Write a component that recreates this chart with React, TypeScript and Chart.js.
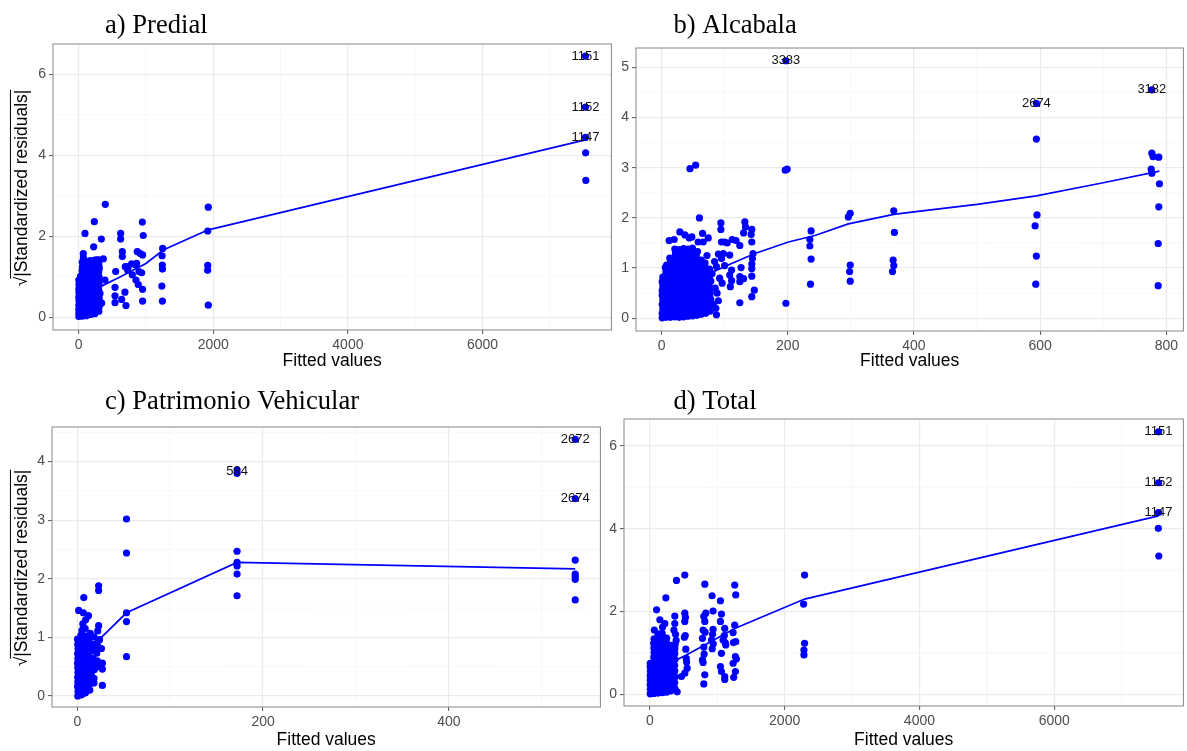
import React, { useEffect, useRef } from "react";
import { Chart, registerables } from "chart.js";

Chart.register(...registerables);

type Pt = [number, number];
type Lbl = { text: string; x: number; y: number };

// ---------------- a) Predial ----------------
const predialPoints: Pt[] = [
  [7530, 6.45], [7530, 5.19], [7530, 4.44], [7532, 4.06], [7535, 3.38],
  [1926, 2.72], [1918, 2.13], [1918, 1.28], [1916, 1.16], [1926, 0.3],
  [1248, 1.7], [1240, 1.52], [1243, 1.29], [1245, 1.19], [1236, 0.77], [1244, 0.4],
  [946, 2.35], [960, 2.02], [950, 1.54], [936, 1.1], [950, 0.69], [950, 0.4],
  [911, 1.58], [896, 1.13], [886, 0.81], [871, 1.62], [861, 1.33], [851, 0.92], [847, 1.29],
  [797, 1.05], [787, 1.32], [737, 1.25], [728, 1.17], [693, 1.25], [703, 0.29], [688, 0.62],
  [624, 2.07], [624, 1.93], [649, 1.62], [649, 1.5], [639, 0.44],
  [550, 1.13], [540, 0.74], [540, 0.53], [540, 0.36],
  [396, 2.79], [337, 1.93], [391, 0.92], [366, 1.44], [317, 0.59], [342, 0.35], [302, 1.23], [267, 1.42],
  [233, 2.36], [94, 2.07], [223, 1.74], [69, 1.57],
  [3, 0.02], [4, 0.1], [2, 0.19], [3, 0.3], [5, 0.41], [2, 0.5], [4, 0.61], [3, 0.7], [5, 0.81], [2, 0.92],
  [28, 0.05], [25, 0.26], [30, 0.47], [27, 0.68], [26, 0.89], [29, 1.02],
  [55, 0.03], [52, 0.13], [57, 0.22], [54, 0.33], [50, 0.42], [56, 0.53], [53, 0.64], [58, 0.73],
  [51, 0.84], [55, 0.93], [57, 1.04], [52, 1.15], [56, 1.24], [54, 1.36], [70, 1.47],
  [115, 0.04], [112, 0.14], [118, 0.25], [110, 0.34], [116, 0.45], [113, 0.56], [119, 0.65], [111, 0.76],
  [117, 0.87], [114, 0.96], [118, 1.07], [112, 1.18], [116, 1.27], [113, 1.38],
  [175, 0.07], [172, 0.16], [178, 0.27], [170, 0.37], [176, 0.47], [173, 0.58], [179, 0.68], [171, 0.78],
  [177, 0.89], [174, 0.99], [178, 1.09], [172, 1.2], [176, 1.3], [173, 1.4],
  [240, 0.09], [236, 0.19], [243, 0.29], [238, 0.4], [242, 0.5], [235, 0.61], [241, 0.71], [237, 0.81],
  [244, 0.92], [239, 1.02], [243, 1.12], [236, 1.23], [240, 1.33], [238, 1.41],
  [300, 0.15], [305, 0.26], [298, 0.37], [306, 0.47], [301, 0.58], [297, 0.69], [304, 0.8], [299, 0.9],
  [303, 1.0], [296, 1.11], [305, 1.2], [300, 1.31], [296, 1.42],
];
const predialLineX = [40, 200, 376, 600, 812, 1000, 1257, 1926, 7530];
const predialLineY = [0.45, 0.65, 0.8, 0.98, 1.17, 1.33, 1.66, 2.16, 4.38];
const predialLabels: Lbl[] = [
  { text: "1151", x: 7530, y: 6.45 },
  { text: "1152", x: 7530, y: 5.19 },
  { text: "1147", x: 7530, y: 4.44 },
];

// ---------------- b) Alcabala ----------------
const alcabalaPoints: Pt[] = [
  [197, 5.13], [594, 4.28], [777, 4.55],
  [45, 2.98], [54, 3.05], [196, 2.95], [199, 2.97], [197, 0.3], [60, 2.0],
  [237, 1.74], [235, 1.57], [235, 1.44], [237, 1.18], [236, 0.68],
  [299, 2.09], [296, 2.02], [299, 1.06], [298, 0.93], [299, 0.74],
  [368, 2.14], [369, 1.71], [367, 1.16], [368, 1.05], [366, 0.93],
  [594, 3.57], [595, 2.06], [592, 1.84], [594, 1.24], [593, 0.68],
  [777, 3.29], [779, 3.22], [788, 3.21], [776, 2.97], [777, 2.89], [789, 2.68], [788, 2.22], [787, 1.49], [787, 0.65],
  [94, 1.9], [94, 1.77], [95, 1.52], [112, 1.57], [108, 1.26], [124, 1.45], [132, 1.92], [133, 1.82], [130, 1.7],
  [143, 1.77], [142, 1.67], [143, 1.52], [145, 1.29], [144, 1.19], [143, 1.08], [143, 0.99], [143, 0.84], [147, 0.56], [143, 0.43],
  [124, 0.31], [126, 1.01], [124, 0.83], [130, 0.79], [124, 0.73], [111, 0.96], [108, 0.86], [111, 0.75], [109, 0.63],
  [85, 0.6], [88, 0.5], [86, 0.2], [87, 0.07], [80, 0.89], [95, 1.19], [98, 1.29], [90, 1.28], [87, 1.03], [84, 1.13],
  [100, 1.52], [104, 1.5], [118, 1.55], [92, 0.8], [96, 0.7], [90, 0.35], [82, 0.28], [100, 1.05],
  [1, 0.01], [1, 0.1], [2, 0.19], [1, 0.28], [2, 0.37], [1, 0.46], [1, 0.55], [2, 0.64], [1, 0.73], [2, 0.82],
  [7, 0.02], [8, 0.11], [6, 0.2], [8, 0.29], [7, 0.38], [6, 0.47], [8, 0.56], [7, 0.65], [6, 0.74], [8, 0.83], [7, 0.92], [6, 1.01], [8, 1.06],
  [14, 0.02], [13, 0.12], [15, 0.21], [14, 0.3], [13, 0.39], [15, 0.48], [14, 0.57], [13, 0.66], [15, 0.75], [14, 0.84],
  [13, 0.93], [15, 1.02], [14, 1.11], [13, 1.2], [12, 1.55],
  [21, 0.03], [20, 0.12], [22, 0.21], [21, 0.31], [20, 0.4], [22, 0.49], [21, 0.58], [20, 0.67], [22, 0.76], [21, 0.85],
  [20, 0.94], [22, 1.03], [21, 1.12], [20, 1.21], [22, 1.3], [21, 1.38], [20, 1.57],
  [28, 0.02], [27, 0.11], [29, 0.2], [28, 0.29], [27, 0.38], [29, 0.47], [28, 0.56], [27, 0.65], [29, 0.74], [28, 0.83],
  [27, 0.92], [29, 1.01], [28, 1.1], [27, 1.19], [29, 1.28], [28, 1.37], [29, 1.72],
  [35, 0.03], [34, 0.13], [36, 0.22], [35, 0.31], [34, 0.4], [36, 0.49], [35, 0.58], [34, 0.67], [36, 0.76], [35, 0.85],
  [34, 0.94], [36, 1.03], [35, 1.12], [34, 1.21], [36, 1.3], [35, 1.39], [37, 1.66],
  [42, 0.04], [41, 0.13], [43, 0.22], [42, 0.31], [41, 0.4], [43, 0.5], [42, 0.59], [41, 0.68], [43, 0.77], [42, 0.86],
  [41, 0.95], [43, 1.04], [42, 1.13], [41, 1.22], [43, 1.31], [42, 1.38], [44, 1.6],
  [49, 0.05], [48, 0.14], [50, 0.23], [49, 0.32], [48, 0.41], [50, 0.5], [49, 0.6], [48, 0.69], [50, 0.78], [49, 0.87],
  [48, 0.96], [50, 1.05], [49, 1.14], [48, 1.23], [50, 1.32], [49, 1.4], [48, 1.62],
  [56, 0.06], [55, 0.15], [57, 0.24], [56, 0.33], [55, 0.42], [57, 0.51], [56, 0.61], [55, 0.7], [57, 0.79], [56, 0.88],
  [55, 0.97], [57, 1.06], [56, 1.15], [55, 1.24], [57, 1.33], [58, 1.52],
  [63, 0.08], [62, 0.17], [64, 0.26], [63, 0.35], [62, 0.44], [64, 0.53], [63, 0.62], [62, 0.71], [64, 0.8], [63, 0.89],
  [62, 0.98], [64, 1.07], [63, 1.16], [65, 1.69], [66, 1.52],
  [70, 0.1], [69, 0.2], [71, 0.3], [70, 0.4], [69, 0.5], [71, 0.6], [70, 0.7], [69, 0.8], [71, 0.9], [70, 1.0], [69, 1.1],
  [77, 0.14], [76, 0.26], [78, 0.38], [77, 0.5], [76, 0.62], [78, 0.74], [77, 0.86], [76, 0.98], [74, 1.6], [72, 1.25],
];
const alcabalaLineX = [30, 60, 79, 111, 148, 201, 243, 296, 368, 400, 500, 594, 700, 789];
const alcabalaLineY = [0.7, 0.82, 0.91, 1.09, 1.29, 1.52, 1.65, 1.88, 2.07, 2.12, 2.27, 2.44, 2.7, 2.93];
const alcabalaLabels: Lbl[] = [
  { text: "3383", x: 197, y: 5.13 },
  { text: "2674", x: 594, y: 4.28 },
  { text: "3182", x: 777, y: 4.55 },
];

// ---------------- c) Patrimonio Vehicular ----------------
const vehicularPoints: Pt[] = [
  [172, 3.86], [172, 3.8], [536, 4.38], [536, 3.37],
  [172, 2.47], [172, 2.28], [172, 2.22], [172, 2.08], [172, 1.71],
  [536, 2.32], [536, 2.08], [536, 2.04], [536, 1.99], [536, 1.64],
  [53, 3.02], [53, 2.44], [53, 1.42], [53, 1.27], [53, 0.67],
  [23, 1.88], [23, 1.8], [7, 1.68], [1.5, 1.46], [6.5, 1.42], [12, 1.37], [9, 1.3], [6, 1.23], [14, 1.07],
  [23, 1.2], [22, 1.11], [18, 1.01], [26, 0.81], [24, 0.96], [21, 0.73], [17, 0.64], [27, 0.56], [27, 0.46],
  [27, 0.18], [18, 0.22], [15, 0.39], [13, 0.19], [3, 0.03], [8, 0.05],
  [0.5, 0.0], [0.8, 0.08], [0.3, 0.16], [0.6, 0.24], [0.4, 0.32], [0.7, 0.4], [0.5, 0.48], [0.3, 0.56], [0.6, 0.64],
  [0.4, 0.72], [0.8, 0.8], [0.5, 0.88], [0.3, 0.97],
  [4.5, 0.02], [4, 0.1], [5, 0.18], [4.5, 0.26], [4, 0.34], [5, 0.42], [4.5, 0.5], [4, 0.58], [5, 0.66], [4.5, 0.74],
  [4, 0.82], [5, 0.9], [4.5, 0.98], [4, 1.04], [5, 1.12],
  [9, 0.06], [8.5, 0.14], [9.5, 0.22], [9, 0.3], [8.5, 0.38], [9.5, 0.46], [9, 0.54], [8.5, 0.62], [9.5, 0.7], [9, 0.78],
  [8.5, 0.86], [9.5, 0.94], [9, 1.02], [8.5, 1.15],
  [13.5, 0.1], [13, 0.26], [14, 0.34], [13.5, 0.42], [13, 0.5], [14, 0.58], [13.5, 0.66], [13, 0.74], [14, 0.82],
  [13.5, 0.9], [13, 0.98],
  [18, 0.3], [18.5, 0.45], [17.5, 0.55], [18, 0.78], [18.5, 0.88],
  [22, 0.5], [21.5, 0.6], [22, 0.85], [22.5, 0.95],
];
const vehicularLineX = [3, 12, 24, 53, 172, 536];
const vehicularLineY = [0.55, 0.78, 0.97, 1.42, 2.28, 2.17];
const vehicularLabels: Lbl[] = [
  { text: "584", x: 172, y: 3.84 },
  { text: "2672", x: 536, y: 4.38 },
  { text: "2674", x: 536, y: 3.37 },
];

// ---------------- d) Total ----------------
const totalPoints: Pt[] = [
  [7548, 6.34], [7548, 5.11], [7548, 4.39], [7545, 4.01], [7552, 3.34],
  [2296, 2.88], [2281, 2.18], [2296, 1.23], [2286, 1.07], [2286, 0.95],
  [1259, 2.64], [1274, 2.4], [1259, 1.67], [1235, 1.49], [1274, 1.27], [1240, 1.25], [1269, 0.91], [1284, 0.85],
  [1235, 0.75], [1269, 0.55], [1244, 0.41],
  [1047, 2.26], [1062, 1.94], [1047, 1.76], [1062, 0.99], [1047, 0.67], [1062, 0.55], [1111, 0.43], [1111, 0.36],
  [1111, 1.59], [1126, 1.19], [1086, 1.31], [1105, 1.42], [1118, 1.25],
  [923, 2.38], [938, 2.01], [938, 1.57], [914, 1.31], [930, 1.45], [925, 1.1], [940, 1.22],
  [815, 2.66], [830, 1.96], [800, 1.88], [815, 1.76], [790, 1.55], [780, 1.35], [800, 1.14], [805, 0.97],
  [780, 0.83], [790, 0.77], [815, 0.47], [800, 0.25], [820, 1.5],
  [518, 2.88], [518, 1.96], [528, 1.86], [518, 1.76], [533, 1.09], [540, 0.87], [553, 0.63], [518, 0.51],
  [469, 0.43], [405, 0.06], [525, 1.42], [512, 1.38], [545, 0.78],
  [395, 2.75], [237, 2.33], [99, 2.04], [148, 1.8], [222, 1.71], [370, 1.89], [370, 1.71], [356, 1.55],
  [380, 1.45], [390, 1.3], [375, 1.2],
  [5, 0.01], [7, 0.12], [4, 0.23], [6, 0.34], [5, 0.45], [7, 0.56], [4, 0.67], [6, 0.75],
  [60, 0.02], [58, 0.13], [63, 0.24], [60, 0.35], [57, 0.46], [62, 0.57], [59, 0.68], [61, 0.79], [58, 0.9],
  [63, 1.01], [60, 1.12], [57, 1.23], [62, 1.34], [66, 1.55],
  [122, 0.03], [120, 0.14], [125, 0.25], [122, 0.36], [119, 0.47], [124, 0.58], [121, 0.69], [123, 0.8], [120, 0.91],
  [125, 1.02], [122, 1.13], [119, 1.24], [124, 1.35], [121, 1.46],
  [185, 0.04], [182, 0.15], [187, 0.26], [184, 0.37], [181, 0.48], [186, 0.59], [183, 0.7], [185, 0.81], [182, 0.92],
  [187, 1.03], [184, 1.14], [181, 1.25], [186, 1.36], [183, 1.47], [188, 1.62],
  [248, 0.05], [245, 0.16], [250, 0.27], [247, 0.38], [244, 0.49], [249, 0.6], [246, 0.71], [248, 0.82], [245, 0.93],
  [250, 1.04], [247, 1.15], [244, 1.26], [249, 1.36],
  [310, 0.08], [307, 0.19], [312, 0.3], [309, 0.41], [306, 0.52], [311, 0.63], [308, 0.74], [310, 0.85], [307, 0.96],
  [312, 1.07], [309, 1.18],
  [372, 0.14], [368, 0.28], [374, 0.42], [370, 0.56], [367, 0.7], [373, 0.84], [369, 0.98], [371, 1.1],
];
const totalLineX = [60, 250, 520, 800, 1259, 2296, 7548];
const totalLineY = [0.55, 0.72, 0.93, 1.18, 1.59, 2.3, 4.31];
const totalLabels: Lbl[] = [
  { text: "1151", x: 7548, y: 6.34 },
  { text: "1152", x: 7548, y: 5.11 },
  { text: "1147", x: 7548, y: 4.39 },
];

// ---------------- ticks ----------------
const bigXTicks = [0, 2000, 4000, 6000];
const bigXMinor = [1000, 3000, 5000, 7000];
const evenYTicks = [0, 2, 4, 6];
const oddYMinor = [1, 3, 5];
const alcabalaXTicks = [0, 200, 400, 600, 800];
const alcabalaXMinor = [100, 300, 500, 700];
const alcabalaYTicks = [0, 1, 2, 3, 4, 5];
const halfMinor = [0.5, 1.5, 2.5, 3.5, 4.5];
const vehicularXTicks = [0, 200, 400];
const vehicularXMinor = [100, 300, 500];
const vehicularYTicks = [0, 1, 2, 3, 4];

const SANS = '"Liberation Sans", Arial, Helvetica, sans-serif';
const SERIF = '"Liberation Serif", "Times New Roman", serif';
const BLUE = "#0000ff";

interface PanelSpec {
  title: string;
  titleX: number;
  titleY: number;
  points: Pt[];
  lineX: number[];
  lineY: number[];
  labels: Lbl[];
  xTicks: number[];
  yTicks: number[];
  xMinor: number[];
  yMinor: number[];
  xRange: [number, number];
  yRange: [number, number];
  canvas: { left: number; top: number; width: number; height: number };
  box: { l: number; t: number; r: number; b: number };
  yTitle: boolean;
}

const panels: PanelSpec[] = [
  {
    title: "a) Predial", titleX: 105, titleY: 33,
    points: predialPoints, lineX: predialLineX, lineY: predialLineY, labels: predialLabels,
    xTicks: bigXTicks, yTicks: evenYTicks, xMinor: bigXMinor, yMinor: oddYMinor,
    xRange: [-381, 7915], yRange: [-0.314, 6.748],
    canvas: { left: 0, top: 0, width: 615, height: 372 },
    box: { l: 53, t: 44, r: 612, b: 330 }, yTitle: true,
  },
  {
    title: "b) Alcabala", titleX: 673.5, titleY: 33,
    points: alcabalaPoints, lineX: alcabalaLineX, lineY: alcabalaLineY, labels: alcabalaLabels,
    xTicks: alcabalaXTicks, yTicks: alcabalaYTicks, xMinor: alcabalaXMinor, yMinor: halfMinor,
    xRange: [-40.5, 827], yRange: [-0.253, 5.384],
    canvas: { left: 600, top: 0, width: 587, height: 372 },
    box: { l: 636, t: 48, r: 1186, b: 331 }, yTitle: false,
  },
  {
    title: "c) Patrimonio Vehicular", titleX: 105, titleY: 408.5,
    points: vehicularPoints, lineX: vehicularLineX, lineY: vehicularLineY, labels: vehicularLabels,
    xTicks: vehicularXTicks, yTicks: vehicularYTicks, xMinor: vehicularXMinor, yMinor: halfMinor,
    xRange: [-27.2, 563.1], yRange: [-0.188, 4.59],
    canvas: { left: 0, top: 376, width: 604, height: 375 },
    box: { l: 52, t: 427, r: 601, b: 707 }, yTitle: true,
  },
  {
    title: "d) Total", titleX: 673.5, titleY: 408.5,
    points: totalPoints, lineX: totalLineX, lineY: totalLineY, labels: totalLabels,
    xTicks: bigXTicks, yTicks: evenYTicks, xMinor: bigXMinor, yMinor: oddYMinor,
    xRange: [-384, 7917], yRange: [-0.283, 6.65],
    canvas: { left: 600, top: 376, width: 587, height: 375 },
    box: { l: 624, t: 419, r: 1186, b: 706 }, yTitle: false,
  },
];

function Panel({ spec }: { spec: PanelSpec }) {
  const ref = useRef<HTMLCanvasElement | null>(null);

  useEffect(() => {
    const canvas = ref.current;
    if (!canvas) return;
    const c = spec.canvas;
    const yW = spec.box.l - c.left;
    const padTop = spec.box.t - c.top;
    const padRight = c.left + c.width - spec.box.r;
    const xH = c.top + c.height - spec.box.b;

    const deco = {
      id: "deco",
      beforeDraw(chart: any) {
        const { ctx, chartArea: a, scales } = chart;
        const xs = scales.x;
        const ys = scales.y;
        ctx.save();
        ctx.strokeStyle = "#f3f3f3";
        ctx.lineWidth = 0.7;
        for (const v of spec.xMinor) {
          const px = xs.getPixelForValue(v);
          if (px < a.left || px > a.right) continue;
          ctx.beginPath();
          ctx.moveTo(px, a.top);
          ctx.lineTo(px, a.bottom);
          ctx.stroke();
        }
        for (const v of spec.yMinor) {
          const py = ys.getPixelForValue(v);
          if (py < a.top || py > a.bottom) continue;
          ctx.beginPath();
          ctx.moveTo(a.left, py);
          ctx.lineTo(a.right, py);
          ctx.stroke();
        }
        ctx.restore();
      },
      afterDraw(chart: any) {
        const { ctx, chartArea: a, scales } = chart;
        const xs = scales.x;
        const ys = scales.y;
        ctx.save();
        // panel border
        ctx.strokeStyle = "#858585";
        ctx.lineWidth = 1;
        ctx.strokeRect(a.left, a.top, a.right - a.left, a.bottom - a.top);
        // point labels
        ctx.fillStyle = "#111";
        ctx.font = `13px ${SANS}`;
        ctx.textAlign = "center";
        ctx.textBaseline = "middle";
        for (const l of spec.labels) {
          ctx.fillText(l.text, xs.getPixelForValue(l.x), ys.getPixelForValue(l.y));
        }
        // panel title
        ctx.fillStyle = "#000";
        ctx.font = `26.6px ${SERIF}`;
        ctx.textAlign = "left";
        ctx.textBaseline = "alphabetic";
        ctx.fillText(spec.title, spec.titleX - c.left, spec.titleY - c.top);
        // y axis title
        if (spec.yTitle) {
          const fs = 17.5;
          const txt = "\u221A|Standardized residuals|";
          ctx.font = `${fs}px ${SANS}`;
          ctx.textAlign = "center";
          ctx.textBaseline = "middle";
          ctx.translate(22 - c.left, (a.top + a.bottom) / 2 + 1);
          ctx.rotate(-Math.PI / 2);
          ctx.fillText(txt, 0, 0);
          const w = ctx.measureText(txt).width;
          const sw = ctx.measureText("\u221A").width;
          ctx.strokeStyle = "#000";
          ctx.lineWidth = 1;
          ctx.beginPath();
          ctx.moveTo(-w / 2 + sw * 0.8, -fs * 0.66);
          ctx.lineTo(w / 2, -fs * 0.66);
          ctx.stroke();
        }
        ctx.restore();
      },
    };

    const tickFont = { family: SANS, size: 14 };
    const chart = new Chart(canvas, {
      type: "scatter",
      data: {
        datasets: [
          {
            type: "scatter",
            data: spec.lineX.map((x, i) => ({ x, y: spec.lineY[i] })),
            showLine: true,
            borderColor: BLUE,
            borderWidth: 1.7,
            pointRadius: 0,
            fill: false,
            tension: 0,
            order: 0,
          } as any,
          {
            type: "scatter",
            data: spec.points.map(([x, y]) => ({ x, y })),
            backgroundColor: BLUE,
            borderWidth: 0,
            pointRadius: 3.6,
            pointHoverRadius: 3.6,
            order: 1,
          } as any,
        ],
      },
      options: {
        animation: false,
        responsive: false,
        events: [],
        layout: { padding: { top: padTop, right: padRight, left: 0, bottom: 0 } },
        plugins: {
          legend: { display: false },
          tooltip: { enabled: false },
          title: { display: false },
        },
        scales: {
          x: {
            type: "linear",
            position: "bottom",
            min: spec.xRange[0],
            max: spec.xRange[1],
            afterBuildTicks: (s: any) => {
              s.ticks = spec.xTicks.map((v) => ({ value: v }));
            },
            afterFit: (s: any) => {
              s.height = xH;
            },
            grid: {
              color: "#ebebeb",
              lineWidth: 1.2,
              tickColor: "#555",
              tickLength: 4,
              tickWidth: 1,
            },
            border: { display: false },
            ticks: {
              color: "#4d4d4d",
              font: tickFont,
              padding: 3,
              maxRotation: 0,
              autoSkip: false,
              callback: (v: any) => String(v),
            },
            title: {
              display: true,
              text: "Fitted values",
              color: "#000",
              font: { family: SANS, size: 17.5 },
              padding: { top: 0, bottom: 0 },
            },
          },
          y: {
            type: "linear",
            position: "left",
            min: spec.yRange[0],
            max: spec.yRange[1],
            afterBuildTicks: (s: any) => {
              s.ticks = spec.yTicks.map((v) => ({ value: v }));
            },
            afterFit: (s: any) => {
              s.width = yW;
            },
            grid: {
              color: "#ebebeb",
              lineWidth: 1.2,
              tickColor: "#555",
              tickLength: 4,
              tickWidth: 1,
            },
            border: { display: false },
            ticks: {
              color: "#4d4d4d",
              font: tickFont,
              padding: 3,
              autoSkip: false,
              callback: (v: any) => String(v),
            },
            title: { display: false },
          },
        },
      } as any,
      plugins: [deco],
    });
    return () => chart.destroy();
  }, [spec]);

  const c = spec.canvas;
  return (
    <canvas
      ref={ref}
      width={c.width}
      height={c.height}
      style={{ position: "absolute", left: c.left, top: c.top, width: c.width, height: c.height }}
    />
  );
}

export default function App() {
  return (
    <div
      style={{
        position: "absolute",
        left: 0,
        top: 0,
        width: 1187,
        height: 751,
        overflow: "hidden",
        background: "#ffffff",
      }}
    >
      {panels.map((p) => (
        <Panel key={p.title} spec={p} />
      ))}
    </div>
  );
}
